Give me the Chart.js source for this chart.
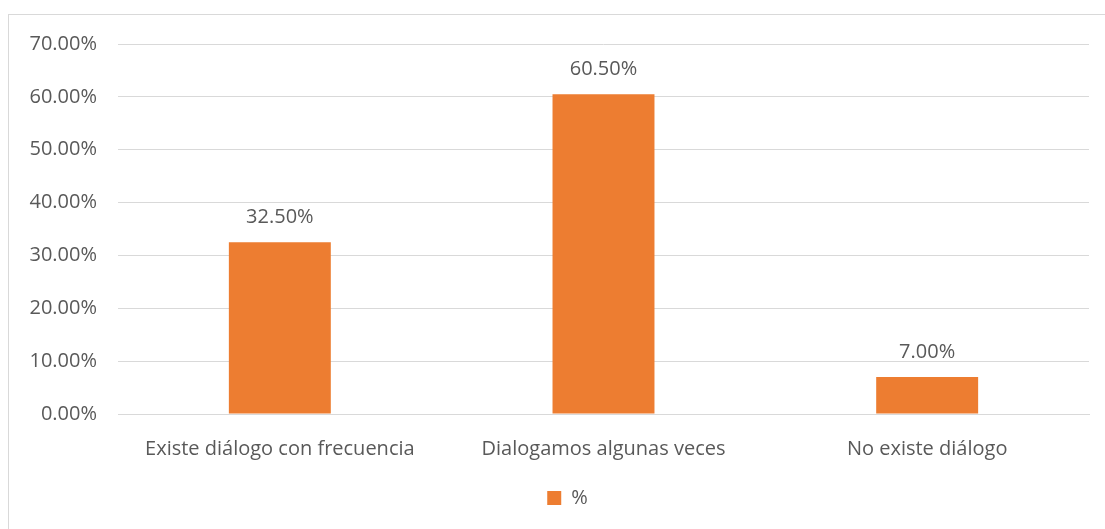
<!DOCTYPE html>
<html>
<head>
<meta charset="utf-8">
<script src="https://cdn.jsdelivr.net/npm/chart.js@4"></script>
<style>
  html, body { margin: 0; padding: 0; background: #fff; overflow: hidden; }
  #frame { position: absolute; left: 8px; top: 14px; width: 1200px; height: 600px; border: 1px solid #d9d9d9; }
  #wrap { position: absolute; left: 0; top: 0; width: 1105px; height: 529px; }
</style>
</head>
<body>
<div id="frame"></div>
<div id="wrap"><canvas id="chart"></canvas></div>
<script>
// datos del grafico
var categories = ['Existe diálogo con frecuencia', 'Dialogamos algunas veces', 'No existe diálogo'];
var values = [32.5, 60.5, 7.0];
var seriesName = '%';
var tickValues = [0, 10, 20, 30, 40, 50, 60, 70];

var textColor = '#595959';
var fontFamily = '"Open Sans", sans-serif';
var fontSize = 20;

// etiquetas encima de cada barra
var barLabels = {
    id: 'barLabels',
    afterDatasetsDraw: function (chart) {
        var ctx = chart.ctx;
        var meta = chart.getDatasetMeta(0);
        ctx.save();
        ctx.fillStyle = textColor;
        ctx.font = fontSize + 'px ' + fontFamily;
        ctx.textAlign = 'center';
        ctx.textBaseline = 'middle';
        meta.data.forEach(function (bar, i) {
            ctx.fillText(values[i].toFixed(2) + '%', bar.x, bar.y - 25);
        });
        ctx.restore();
    }
};

// la leyenda esta un poco a la derecha del centro
var legendShift = {
    id: 'legendShift',
    afterLayout: function (chart) {
        if (chart.legend) {
            chart.legend.left += 23;
            chart.legend.right += 23;
        }
    }
};

new Chart(document.getElementById('chart'), {
    type: 'bar',
    data: {
        labels: categories,
        datasets: [{
            label: seriesName,
            data: values,
            backgroundColor: '#ED7D31',
            barPercentage: 0.315,
            categoryPercentage: 1
        }]
    },
    options: {
        responsive: true,
        maintainAspectRatio: false,
        animation: false,
        layout: { padding: { left: 0, right: 16, top: 44, bottom: 11 } },
        scales: {
            x: {
                grid: { display: false },
                border: { color: '#d9d9d9' },
                ticks: { color: textColor, font: { family: fontFamily, size: fontSize }, padding: 15, maxRotation: 0 },
                afterFit: function (scale) { scale.height = 66; }
            },
            y: {
                min: 0,
                max: 70,
                grid: { color: '#d9d9d9', drawTicks: false },
                border: { display: false },
                afterBuildTicks: function (scale) {
                    scale.ticks = tickValues.map(function (v) { return { value: v }; });
                },
                ticks: {
                    color: textColor,
                    font: { family: fontFamily, size: fontSize },
                    padding: 21,
                    callback: function (v) { return v.toFixed(2) + '%'; }
                },
                afterFit: function (scale) { scale.width = 118; }
            }
        },
        plugins: {
            legend: {
                position: 'bottom',
                labels: {
                    color: textColor,
                    font: { family: fontFamily, size: fontSize },
                    boxWidth: 14,
                    boxHeight: 14,
                    padding: 8
                }
            },
            tooltip: { enabled: false }
        }
    },
    plugins: [barLabels, legendShift]
});
</script>
</body>
</html>
